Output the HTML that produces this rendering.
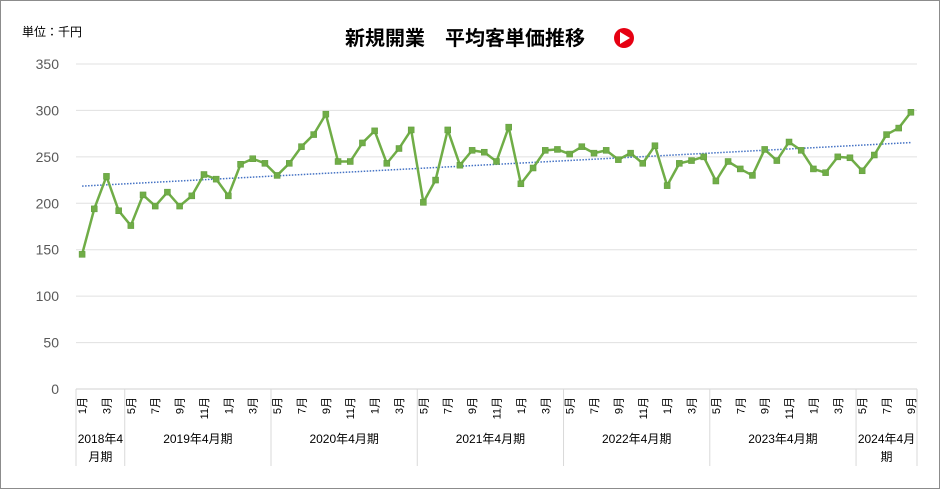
<!DOCTYPE html>
<html><head><meta charset="utf-8"><style>
body{margin:0;background:#fff;}
#wrap{position:relative;width:940px;height:489px;overflow:hidden;font-family:"Liberation Sans","Noto Sans CJK JP",sans-serif;}
</style></head><body>
<div id="wrap">
<svg id="chart" width="940" height="489">
<rect x="0.5" y="0.5" width="939" height="488" fill="#fff" stroke="#8c8c8c"/>
<text x="22" y="36" font-size="12" fill="#000">単位：千円</text>
<text x="465" y="45" font-size="20" font-weight="bold" text-anchor="middle" fill="#000">新規開業　平均客単価推移</text>
<g><circle cx="624" cy="38" r="10" fill="#e60012"/><polygon points="620,32 620,44 630,38" fill="#fff"/></g>
<g id="grid"></g><g id="axes"></g><g id="series"></g>
</svg>
</div>
<script>
const values=[145,194,229,192,176,209,197,212,197,208,231,226,208,242,248,243,230,243,261,274,296,245,245,265,278,243,259,279,201,225,279,241,257,255,245,282,221,238,257,258,253,261,254,257,247,254,243,262,219,243,246,250,224,245,237,230,258,246,266,257,237,233,250,249,235,252,274,281,298];
const startMonth=1;
const yTicks=[0,50,100,150,200,250,300,350];
const groupLabels=["2018年4\n月期","2019年4月期","2020年4月期","2021年4月期","2022年4月期","2023年4月期","2024年4月\n期"];
const groupSizes=[4,12,12,12,12,12,5];
const NS="http://www.w3.org/2000/svg";
const L=76,R=917,T=64,B=389,yMax=350;
const w=(R-L)/values.length;
const xs=i=>L+w*(i+0.5);
const ys=v=>B-(v/yMax)*(B-T);
function mk(tag,attrs,parent){const e=document.createElementNS(NS,tag);for(const k in attrs)e.setAttribute(k,attrs[k]);parent.appendChild(e);return e;}
const grid=document.getElementById('grid'),axes=document.getElementById('axes'),ser=document.getElementById('series');
yTicks.forEach(t=>{
 const ln=mk('line',{x1:L,x2:R,y1:ys(t),y2:ys(t),stroke:t===0?'#d0d0d0':'#e0e0e0','stroke-width':1},grid);
 
 
 const tx=mk('text',{x:59,y:ys(t)+5,'font-size':14,'text-anchor':'end',fill:'#595959'},axes);
 tx.textContent=t;
 
 
});
values.forEach((v,i)=>{
 const m=((startMonth-1+i)%12)+1;
 if(m%2===1){
  const x=xs(i)+4,y=397;
  const tx=mk('text',{x:x,y:y,'font-size':11,'text-anchor':'end',fill:'#000',transform:`rotate(-90 ${x} ${y})`},axes);
  tx.textContent=m+'月';
  
  
 }
});
let acc=0;
const b0=mk('line',{x1:L,x2:L,y1:B,y2:466,stroke:'#d9d9d9'},axes);


groupSizes.forEach((n,g)=>{
 const x0=L+acc*w,x1=L+(acc+n)*w;acc+=n;
 const ln=mk('line',{x1:x1,x2:x1,y1:B,y2:466,stroke:'#d9d9d9'},axes);
 
 
 groupLabels[g].split('\n').forEach((s,k)=>{
  const tx=mk('text',{x:(x0+x1)/2,y:443+k*18,'font-size':12,'text-anchor':'middle',fill:'#000'},axes);
  tx.textContent=s;
  
  
 });
});
// trendline (linear regression)
const n=values.length;let sx=0,sy=0,sxy=0,sxx=0;
values.forEach((v,i)=>{sx+=i;sy+=v;sxy+=i*v;sxx+=i*i;});
const slope=(n*sxy-sx*sy)/(n*sxx-sx*sx),icp=(sy-slope*sx)/n;
const tl=mk('line',{x1:xs(0),y1:ys(icp),x2:xs(n-1),y2:ys(icp+slope*(n-1)),stroke:'#4472c4','stroke-width':1.5,'stroke-dasharray':'1.5 1.5'},ser);


const pl=mk('polyline',{points:values.map((v,i)=>xs(i)+','+ys(v)).join(' '),fill:'none',stroke:'#70ad47','stroke-width':2.5,'stroke-linejoin':'round'},ser);


values.forEach((v,i)=>{
 const r=mk('rect',{x:xs(i)-3,y:ys(v)-3,width:6,height:6,fill:'#70ad47',stroke:'#5e9a3a','stroke-width':0.5},ser);
 
 
});
</script>
</body></html>
